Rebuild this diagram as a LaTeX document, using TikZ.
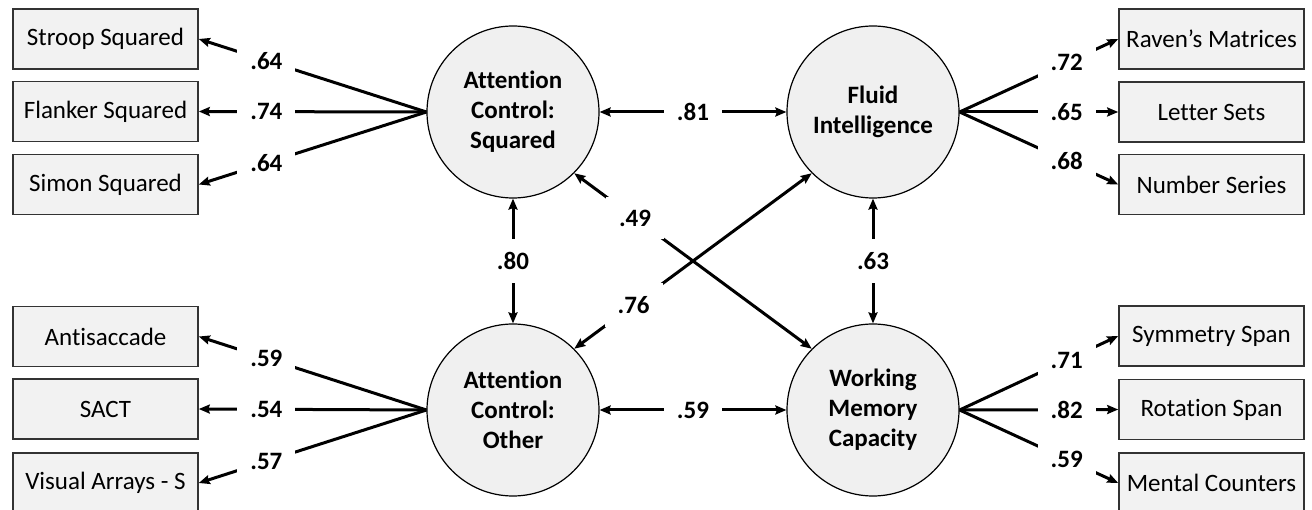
\documentclass[tikz,border=0pt]{standalone}
\usepackage{fontspec}
\setmainfont{Carlito}[Ligatures={NoCommon}]
\usetikzlibrary{arrows.meta}
\definecolor{boxfill}{HTML}{F2F2F2}
\definecolor{circfill}{HTML}{F0F0F0}
\definecolor{boxline}{HTML}{333333}
\begin{document}
\begin{tikzpicture}[x=1pt,y=-1pt,
  font=\fontsize{25pt}{30pt}\selectfont,
  obs/.style={draw=boxline, line width=1.6pt, fill=boxfill, minimum width=185pt, minimum height=60pt, inner sep=0pt},
  lat/.style={circle, draw=black, line width=1.2pt, fill=circfill, minimum size=172pt, inner sep=0pt, align=center, font=\fontsize{25pt}{30pt}\selectfont\bfseries},
  lab/.style={fill=white, inner sep=13pt, font=\fontsize{25pt}{30pt}\selectfont\bfseries},
  load/.style={line width=3pt, -{Stealth[length=11pt,width=9pt,inset=1.5pt]}},
  cov/.style={line width=3pt, {Stealth[length=11pt,width=9pt,inset=1.5pt]}-{Stealth[length=11pt,width=9pt,inset=1.5pt]}}
]
\useasboundingbox (0,0) rectangle (1312,510);
\fill[white] (0,0) rectangle (1312,510);

% latent variables
\node[lat] (acs) at (513,112) {Attention\\Control:\\Squared};
\node[lat] (fi)  at (873,112) {Fluid\\Intelligence};
\node[lat] (aco) at (513,410) {Attention\\Control:\\Other};
\node[lat] (wmc) at (873,410) {Working\\Memory\\Capacity};

% observed variables
\node[obs] (s1) at (105.5,39)   {Stroop Squared};
\node[obs] (s2) at (105.5,111.5){Flanker Squared};
\node[obs] (s3) at (105.5,184.5){Simon Squared};
\node[obs] (o1) at (105.5,336.5){Antisaccade};
\node[obs] (o2) at (105.5,409)  {SACT};
\node[obs] (o3) at (105.5,483)  {Visual Arrays - S};
\node[obs] (f1) at (1211.5,39)   {Raven’s Matrices};
\node[obs] (f2) at (1211.5,112)  {Letter Sets};
\node[obs] (f3) at (1211.5,184.5){Number Series};
\node[obs] (w1) at (1211.5,336)  {Symmetry Span};
\node[obs] (w2) at (1211.5,409.5){Rotation Span};
\node[obs] (w3) at (1211.5,483)  {Mental Counters};

% loadings
\draw[load] (acs.west) -- node[lab,pos=0.703]{.64} (s1.east);
\draw[load] (acs.west) -- node[lab,pos=0.703]{.74} (s2.east);
\draw[load] (acs.west) -- node[lab,pos=0.703]{.64} (s3.east);
\draw[load] (aco.west) -- node[lab,pos=0.703]{.59} (o1.east);
\draw[load] (aco.west) -- node[lab,pos=0.703]{.54} (o2.east);
\draw[load] (aco.west) -- node[lab,pos=0.703]{.57} (o3.east);
\draw[load] (fi.east) -- node[lab,pos=0.675]{.72} (f1.west);
\draw[load] (fi.east) -- node[lab,pos=0.675]{.65} (f2.west);
\draw[load] (fi.east) -- node[lab,pos=0.675]{.68} (f3.west);
\draw[load] (wmc.east) -- node[lab,pos=0.675]{.71} (w1.west);
\draw[load] (wmc.east) -- node[lab,pos=0.675]{.82} (w2.west);
\draw[load] (wmc.east) -- node[lab,pos=0.675]{.59} (w3.west);

% correlations
\draw[cov] (acs) -- node[lab]{.81} (fi);
\draw[cov] (aco) -- node[lab]{.59} (wmc);
\draw[cov] (acs) -- node[lab]{.80} (aco);
\draw[cov] (fi) -- node[lab]{.63} (wmc);
\draw[cov] (acs.-45) -- node[lab,pos=0.256]{.49} (wmc.135);
\draw[cov] (aco.45) -- node[lab,pos=0.25]{.76} (fi.-135);
\end{tikzpicture}
\end{document}
